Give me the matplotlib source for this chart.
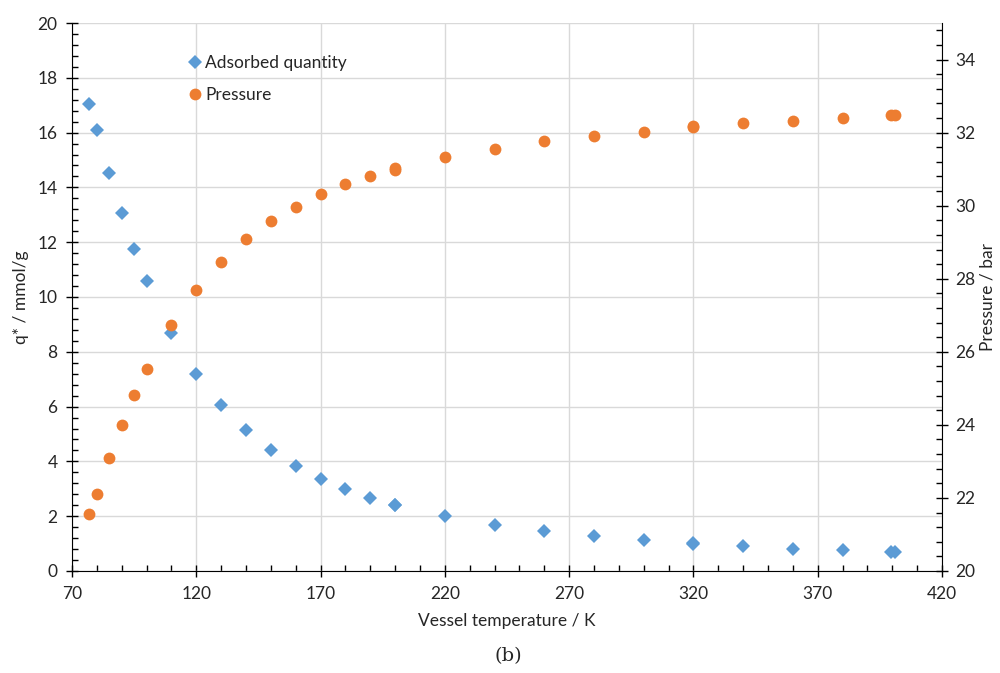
import matplotlib
matplotlib.use("Agg")
import matplotlib.pyplot as plt
from matplotlib.ticker import MultipleLocator

# Data
temp = [77, 80, 85, 90, 95, 100, 110, 120, 130, 140, 150, 160, 170, 180, 190,
        200, 200, 220, 240, 260, 280, 300, 320, 320, 340, 360, 380, 399.5, 401]
q_ads = [17.05, 16.10, 14.52, 13.05, 11.77, 10.60, 8.70, 7.20, 6.05, 5.13, 4.40,
         3.83, 3.37, 2.99, 2.67, 2.42, 2.40, 2.00, 1.69, 1.46, 1.27, 1.12, 1.01,
         0.99, 0.91, 0.81, 0.75, 0.69, 0.68]
pressure = [21.55, 22.12, 23.08, 24.00, 24.81, 25.53, 26.73, 27.70, 28.46, 29.08,
            29.57, 29.97, 30.31, 30.58, 30.80, 30.98, 31.02, 31.32, 31.56, 31.76,
            31.92, 32.03, 32.14, 32.17, 32.25, 32.33, 32.39, 32.47, 32.49]

x_ticks = [70, 120, 170, 220, 270, 320, 370, 420]

BLUE = "#5B9BD5"
ORANGE = "#ED7D31"
TXT = "#262626"
FS = 12.5

plt.rcParams['font.family'] = ['Lato', 'DejaVu Sans']

fig = plt.figure(figsize=(10, 6.73), dpi=100)
ax = fig.add_axes([0.072, 0.1516, 0.870, 0.8142])
ax2 = ax.twinx()

h1, = ax.plot(temp, q_ads, linestyle='none', marker='D', ms=7, color=BLUE,
              markeredgewidth=0, label='Adsorbed quantity', zorder=3)
h2, = ax2.plot(temp, pressure, linestyle='none', marker='o', ms=8.5, color=ORANGE,
               markeredgewidth=0, label='Pressure', zorder=3)

ax.set_xlim(70, 420)
ax.set_ylim(0, 20)
ax2.set_ylim(20, 35)

ax.set_xticks(x_ticks)
ax.xaxis.set_minor_locator(MultipleLocator(10))
ax.yaxis.set_major_locator(MultipleLocator(2))
ax.yaxis.set_minor_locator(MultipleLocator(0.4))
ax2.yaxis.set_major_locator(MultipleLocator(2))
ax2.yaxis.set_minor_locator(MultipleLocator(0.4))
ax2.set_yticks([20, 22, 24, 26, 28, 30, 32, 34])

ax.grid(True, which='major', color='#D9D9D9', linewidth=1.0, zorder=0)
ax.set_axisbelow(True)

for a in (ax, ax2):
    a.tick_params(which='major', direction='inout', length=9, width=1.0,
                  colors='black', labelcolor=TXT, labelsize=FS)
    a.tick_params(which='minor', direction='in', length=4, width=1.0, colors='black')
    a.spines['top'].set_visible(False)
ax.spines['right'].set_visible(False)
ax2.spines['left'].set_visible(False)
ax2.spines['bottom'].set_visible(False)
ax.tick_params(axis='x', pad=6)
ax.tick_params(axis='y', pad=6)
ax2.tick_params(axis='y', pad=5)

ax.set_xlabel('Vessel temperature / K', fontsize=FS, color=TXT, labelpad=8)
ax.set_ylabel('q* / mmol/g', fontsize=FS, color=TXT, labelpad=6)
ax2.set_ylabel('Pressure / bar', fontsize=FS, color=TXT, labelpad=3)

ax.legend(handles=[h1, h2], loc='upper left', bbox_to_anchor=(0.127, 0.955),
          frameon=False, fontsize=FS, handlelength=0.6, handletextpad=0.3,
          labelspacing=0.95, borderaxespad=0, labelcolor=TXT)

fig.text(0.508, 0.025, '(b)', ha='center', va='center', fontsize=14,
         family=['DejaVu Serif'], color=TXT)

fig.savefig('out.png', dpi=100)
